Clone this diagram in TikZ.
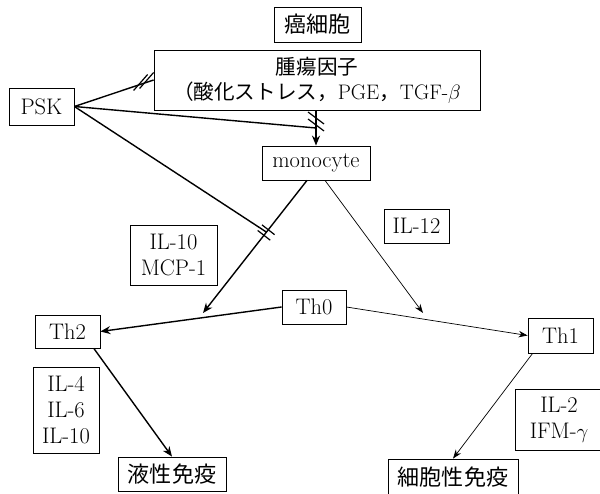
\documentclass[tikz,border=0pt]{standalone}
\usepackage{fontspec}
\newfontfamily\jp[Scale=0.98]{Noto Sans CJK JP}
\usetikzlibrary{arrows.meta,calc}
\begin{document}
\begin{tikzpicture}[x=1pt,y=-1pt,
  box/.style={draw, line width=0.8pt, inner sep=0pt, align=center, font=\fontsize{22.5}{26}\selectfont},
  thickln/.style={line width=1.4pt},
  thinln/.style={line width=0.7pt},
  bigarr/.style={thickln,-{Stealth[length=10pt,width=8pt]}},
  smallarr/.style={thinln,-{Stealth[length=9pt,width=6.5pt]}},
  hbar/.style={line width=1.2pt}]
\useasboundingbox (0,0) rectangle (600,494);
% nodes
\node[box, minimum width=87pt, minimum height=35pt] (cancer) at (317.5,24.5) {\jp 癌細胞};
\node[box, minimum width=326pt, minimum height=60pt, font=\fontsize{21}{25}\selectfont] (tumor) at (317,80)
  {{\jp 腫瘍因子}\\{\jp （酸化ストレス，}PGE{\jp ，}TGF-$\beta$};
\node[box, minimum width=65pt, minimum height=37pt] (psk) at (41.5,106.5) {PSK};
\node[box, minimum width=108pt, minimum height=34pt] (mono) at (316,163) {monocyte};
\node[box, minimum width=87pt, minimum height=60pt] (il10) at (173.5,255) {IL-10\\MCP-1};
\node[box, minimum width=65pt, minimum height=34pt] (il12) at (416.5,226) {IL-12};
\node[box, minimum width=65pt, minimum height=33pt] (th2) at (67.5,331.5) {Th2};
\node[box, minimum width=64pt, minimum height=34pt] (th0) at (314,307) {Th0};
\node[box, minimum width=65pt, minimum height=35pt] (th1) at (560.5,335.5) {Th1};
\node[box, minimum width=66pt, minimum height=86pt] (il4) at (66,410) {IL-4\\IL-6\\IL-10};
\node[box, minimum width=88pt, minimum height=61pt] (il2) at (559,419.5) {IL-2\\IFM-$\gamma$};
\node[box, minimum width=108pt, minimum height=34pt] (eki) at (172,474) {\jp 液性免疫};
\node[box, minimum width=130pt, minimum height=37pt] (saibo) at (453,477.5) {\jp 細胞性免疫};
% helper coordinates
\coordinate (vtop) at (mono.north |- tumor.south);
\coordinate (j1) at ($(vtop)!0.5!(mono.north)$);
\coordinate (m2s) at ($(mono.south)+(-9,0)$);
\coordinate (t2) at (203,313);
\coordinate (j2) at ($(m2s)!0.39!(t2)$);
\coordinate (m1s) at ($(mono.south)+(9,0)$);
\coordinate (t1) at (423,313);
\coordinate (th2s) at ($(th2.south)!0.8!(th2.south east)$);
\coordinate (th1s) at ($(th1.south west)+(5,0)$);
% connectors
\draw[bigarr] (vtop) -- (mono.north);
\draw[thickln] (psk.east) -- (tumor.west);
\draw[thickln] (psk.east) -- (j1);
\draw[thickln] (psk.east) -- (j2);
\draw[bigarr] (m2s) -- (t2);
\draw[smallarr] (m1s) -- (t1);
\draw[bigarr] (th0.west) -- (th2.east);
\draw[smallarr] (th0.east) -- (th1.west);
\draw[bigarr] (th2s) -- (eki.north);
\draw[smallarr] (th1s) -- (saibo.north);
% inhibition bars
\draw[hbar] ($(tumor.west)+(-7,0.5)+(-7,8)$) -- ($(tumor.west)+(-7,0.5)+(7,-8)$);
\draw[hbar] ($(tumor.west)+(-13,2.5)+(-7,8)$) -- ($(tumor.west)+(-13,2.5)+(7,-8)$);
\draw[hbar] ($(j1)+(0,-10)+(-8,-6)$) -- ($(j1)+(0,-10)+(8,6)$);
\draw[hbar] ($(j1)+(0,-3)+(-8,-6)$) -- ($(j1)+(0,-3)+(8,6)$);
\draw[hbar] ($(j2)+(1.85,-2.36)+(-6.3,-4.9)$) -- ($(j2)+(1.85,-2.36)+(6.3,4.9)$);
\draw[hbar] ($(j2)+(-2.5,3.2)+(-6.3,-4.9)$) -- ($(j2)+(-2.5,3.2)+(6.3,4.9)$);
\end{tikzpicture}
\end{document}
